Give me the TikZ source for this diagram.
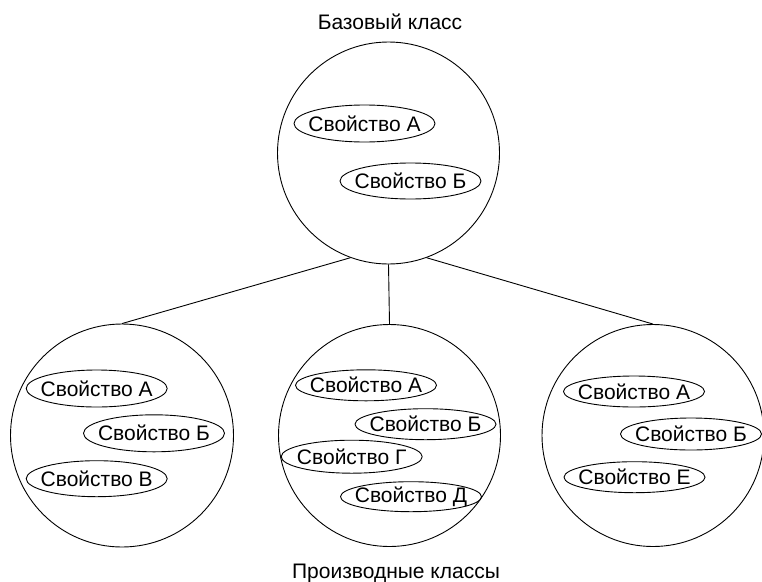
\documentclass[tikz,border=0pt]{standalone}
\usepackage{fontspec}
\setmainfont{Liberation Sans}
\usetikzlibrary{shapes.geometric}
\begin{document}
\begin{tikzpicture}[x=1pt,y=-1pt,
  cls/.style={draw,circle,line width=0.9pt,inner sep=0pt},
  prop/.style={draw,ellipse,line width=0.9pt,inner sep=0pt,minimum width=141pt,minimum height=#1,
    label={[font=\fontsize{21}{25}\selectfont,inner sep=0pt]center:\proptext}},
  prop/.default=36pt,
  ttl/.style={font=\fontsize{21}{25}\selectfont,inner sep=0pt},
  conn/.style={line width=0.9pt}]
\newcommand\proptext{}
\newcommand\pnode[4]{\renewcommand\proptext{#4}\node[prop=#1] (#2) at #3 {};}
\useasboundingbox (0,0) rectangle (762,581);
% classes
\node[cls,minimum size=222pt] (base) at (388.5,153) {};
\node[cls,minimum size=223pt] (left) at (122,435.5) {};
\node[cls,minimum size=222pt] (mid) at (389.5,435.5) {};
\node[cls,minimum size=222pt] (right) at (653,435.5) {};
% titles
\node[ttl] (tbase) at (390,22) {Базовый класс};
\node[ttl] (tder) at (396,573) {Производные классы};
% base properties
\pnode{37pt}{bA}{(364.5,123.5)}{Свойство А}
\pnode{36pt}{bB}{(410.5,181)}{Свойство Б}
% left properties
\pnode{37pt}{lA}{(96.7,388.5)}{Свойство А}
\pnode{37pt}{lB}{(154,433.3)}{Свойство Б}
\pnode{36pt}{lV}{(96.7,478.7)}{Свойство В}
% middle properties
\pnode{31pt}{mA}{(366,385.3)}{Свойство А}
\pnode{31pt}{mB}{(425.5,424.2)}{Свойство Б}
\pnode{33pt}{mG}{(351.7,456.7)}{Свойство Г}
\pnode{30pt}{mD}{(411,496.7)}{Свойство Д}
% right properties
\pnode{31pt}{rA}{(634,391.5)}{Свойство А}
\pnode{32pt}{rB}{(691,434)}{Свойство Б}
\pnode{31pt}{rE}{(634.5,477.2)}{Свойство Е}
% connectors
\draw[conn] (base.250) -- (left.north);
\draw[conn] (base.south) -- (mid.north);
\draw[conn] (base.290) -- (right.north);
\end{tikzpicture}
\end{document}
